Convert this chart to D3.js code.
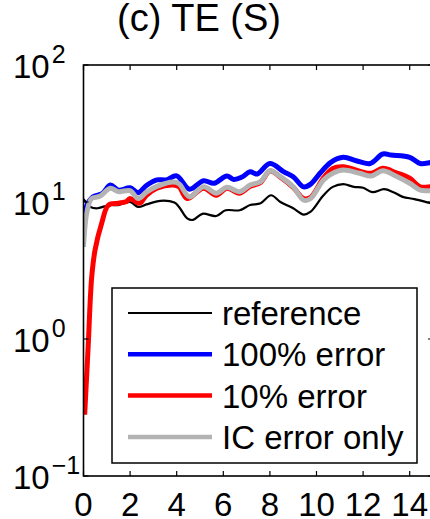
<!DOCTYPE html>
<html>
<head>
<meta charset="utf-8">
<script src="https://cdn.jsdelivr.net/npm/d3@7/dist/d3.min.js"></script>
<style>
  html, body { margin: 0; padding: 0; background: #fff; }
  svg { display: block; }
  text { font-family: "Liberation Sans", Arial, Helvetica, sans-serif; fill: #000; }
</style>
</head>
<body>
<svg id="chart" width="430" height="519"></svg>
<script>
// Total energy time series (log scale), four runs
const refTime = [0, 0.1, 0.3, 0.6, 0.9, 1.15, 1.5, 2.0, 2.35, 2.7, 3.3, 3.9, 4.1, 4.45, 4.7, 5.1, 5.7, 6.1, 6.7, 7.15, 7.6, 8.05, 8.45, 9.0, 9.45, 9.75, 10.3, 10.7, 11.15, 11.6, 12.0, 12.4, 12.9, 13.3, 13.7, 14.2, 14.8, 15];
const refValues = [10.5, 10.0, 9.2, 9.0, 9.3, 9.5, 9.5, 10.0, 9.2, 9.6, 10.2, 9.9, 9.2, 7.6, 7.4, 8.2, 7.9, 8.7, 8.7, 9.5, 9.8, 11.2, 10.0, 9.0, 8.1, 8.5, 11.2, 12.9, 13.5, 12.9, 12.7, 11.8, 12.4, 11.8, 10.9, 10.5, 9.9, 9.7];

const err100Time = [0, 0.1, 0.4, 0.8, 1.15, 1.5, 2.0, 2.35, 2.7, 3.15, 3.55, 4.0, 4.55, 5.15, 5.6, 6.15, 6.45, 6.8, 7.15, 7.45, 8.0, 8.6, 9.0, 9.45, 9.75, 10.15, 10.6, 11.15, 11.7, 12.3, 12.85, 13.2, 14.0, 14.45, 14.9, 15];
const err100Values = [5.0, 9.0, 10.9, 11.5, 13.3, 12.2, 12.7, 11.7, 13.2, 14.5, 14.5, 15.5, 12.4, 14.3, 13.7, 15.5, 14.6, 15.2, 16.6, 16.0, 19.1, 16.6, 15.3, 12.9, 13.5, 16.2, 19.4, 21.2, 20.0, 19.1, 22.4, 22.0, 21.2, 19.1, 19.4, 19.4];

const err10Time = [0.05, 0.2, 0.35, 0.5, 0.78, 1.07, 1.5, 1.85, 2.0, 2.4, 2.7, 3.15, 3.85, 4.1, 4.45, 5.15, 5.7, 6.15, 6.7, 7.15, 7.6, 8.0, 8.45, 9.0, 9.45, 9.75, 10.3, 10.7, 11.15, 11.85, 12.35, 12.85, 13.4, 14.0, 14.45, 14.9, 15];
const err10Values = [0.28, 0.88, 2.8, 4.5, 7.0, 9.5, 9.8, 10.1, 10.6, 9.8, 11.2, 12.6, 13.3, 12.9, 10.6, 12.6, 11.2, 12.6, 11.6, 13.0, 13.9, 16.8, 15.2, 12.8, 10.6, 10.8, 15.0, 17.6, 18.1, 16.8, 16.2, 17.6, 16.4, 14.9, 12.9, 12.9, 12.9];

const icTime = [0, 0.15, 0.35, 0.7, 1.15, 1.5, 2.0, 2.35, 2.7, 3.15, 3.85, 4.1, 4.55, 5.15, 5.7, 6.15, 6.7, 7.15, 7.6, 8.0, 8.45, 9.0, 9.45, 9.75, 10.3, 10.7, 11.15, 11.85, 12.35, 12.85, 13.4, 14.0, 14.45, 14.9, 15];
const icValues = [4.7, 8.5, 10.6, 11.0, 12.6, 11.9, 12.1, 10.6, 11.8, 13.0, 14.0, 13.6, 10.9, 12.9, 11.6, 12.8, 11.9, 13.3, 14.1, 16.9, 15.3, 12.9, 10.3, 10.6, 14.5, 16.2, 17.1, 16.2, 15.5, 16.9, 15.5, 13.7, 12.2, 12.1, 12.1];

const xTicks = [0, 2, 4, 6, 8, 10, 12, 14];
const yTickExponents = [2, 1, 0, -1];
const seriesNames = ["reference", "100% error", "10% error", "IC error only"];
const seriesColors = ["#000000", "#0000ff", "#ff0000", "#b3b3b3"];
const seriesWidths = [2.2, 5, 5, 5];
const legendWidths = [2.2, 4.5, 4.5, 4.5];
const titleText = "(c) TE (S)";

const svg = d3.select("#chart");
const plotLeft = 83.5, plotRight = 433, plotTop = 65, plotBottom = 476;

const x = d3.scaleLinear().domain([0, 15]).range([plotLeft, plotRight]);
const y = d3.scaleLog().domain([0.1, 100]).range([plotBottom, plotTop]);

const series = [
  { t: refTime, v: refValues },
  { t: err100Time, v: err100Values },
  { t: err10Time, v: err10Values },
  { t: icTime, v: icValues }
];

svg.append("clipPath").attr("id", "plotclip")
  .append("rect").attr("x", plotLeft).attr("y", plotTop)
  .attr("width", plotRight - plotLeft).attr("height", plotBottom - plotTop);

const line = d3.line()
  .x(d => x(d[0]))
  .y(d => y(d[1]))
  .curve(d3.curveCatmullRom.alpha(0.5));

const plot = svg.append("g").attr("clip-path", "url(#plotclip)");
series.forEach((s, i) => {
  plot.append("path")
    .datum(s.t.map((t, k) => [t, s.v[k]]))
    .attr("d", line)
    .attr("fill", "none")
    .attr("stroke", seriesColors[i])
    .attr("stroke-width", seriesWidths[i])
    .attr("stroke-linejoin", "round")
    .attr("stroke-linecap", "butt");
});

// Box axes with inward ticks
const tickLen = 5;
const axisG = svg.append("g").attr("stroke", "#000").attr("stroke-width", 1.6);
axisG.append("rect").attr("x", plotLeft).attr("y", plotTop)
  .attr("width", plotRight - plotLeft).attr("height", plotBottom - plotTop)
  .attr("fill", "none");

xTicks.forEach(t => {
  axisG.append("line").attr("x1", x(t)).attr("x2", x(t))
    .attr("y1", plotBottom).attr("y2", plotBottom - tickLen).attr("stroke-width", 1.2);
  axisG.append("line").attr("x1", x(t)).attr("x2", x(t))
    .attr("y1", plotTop).attr("y2", plotTop + tickLen).attr("stroke-width", 1.2);
});
yTickExponents.forEach(e => {
  const yy = y(Math.pow(10, e));
  axisG.append("line").attr("x1", plotLeft).attr("x2", plotLeft + tickLen)
    .attr("y1", yy).attr("y2", yy).attr("stroke-width", 1.2);
  axisG.append("line").attr("x1", plotRight).attr("x2", plotRight - tickLen)
    .attr("y1", yy).attr("y2", yy).attr("stroke-width", 1.2);
});

// Tick labels
const fontSize = 33;
svg.append("g").selectAll("text").data(xTicks).join("text")
  .attr("x", d => x(d)).attr("y", plotBottom + 39.5)
  .attr("text-anchor", "middle").attr("font-size", fontSize)
  .text(d => d);

yTickExponents.forEach(e => {
  const yy = y(Math.pow(10, e));
  const t = svg.append("text").attr("x", 13).attr("y", yy + 12.5)
    .attr("font-size", fontSize);
  t.append("tspan").text("10");
  t.append("tspan").attr("font-size", 25).attr("dx", 2).attr("dy", -14.5)
    .text(e < 0 ? "\u2212" + Math.abs(e) : String(e));
});

// Title
svg.append("text").attr("x", 117).attr("y", 31)
  .attr("font-size", 38).text(titleText);

// Legend
const lg = svg.append("g");
lg.append("rect").attr("x", 112).attr("y", 288).attr("width", 305).attr("height", 175)
  .attr("fill", "#fff").attr("stroke", "#000").attr("stroke-width", 1.5);
seriesNames.forEach((name, i) => {
  const ly = 313 + i * 41.3;
  lg.append("line").attr("x1", 128).attr("x2", 212).attr("y1", ly).attr("y2", ly)
    .attr("stroke", seriesColors[i]).attr("stroke-width", legendWidths[i]);
  lg.append("text").attr("x", 222).attr("y", ly + 12).attr("font-size", fontSize)
    .text(name);
});
</script>
</body>
</html>
